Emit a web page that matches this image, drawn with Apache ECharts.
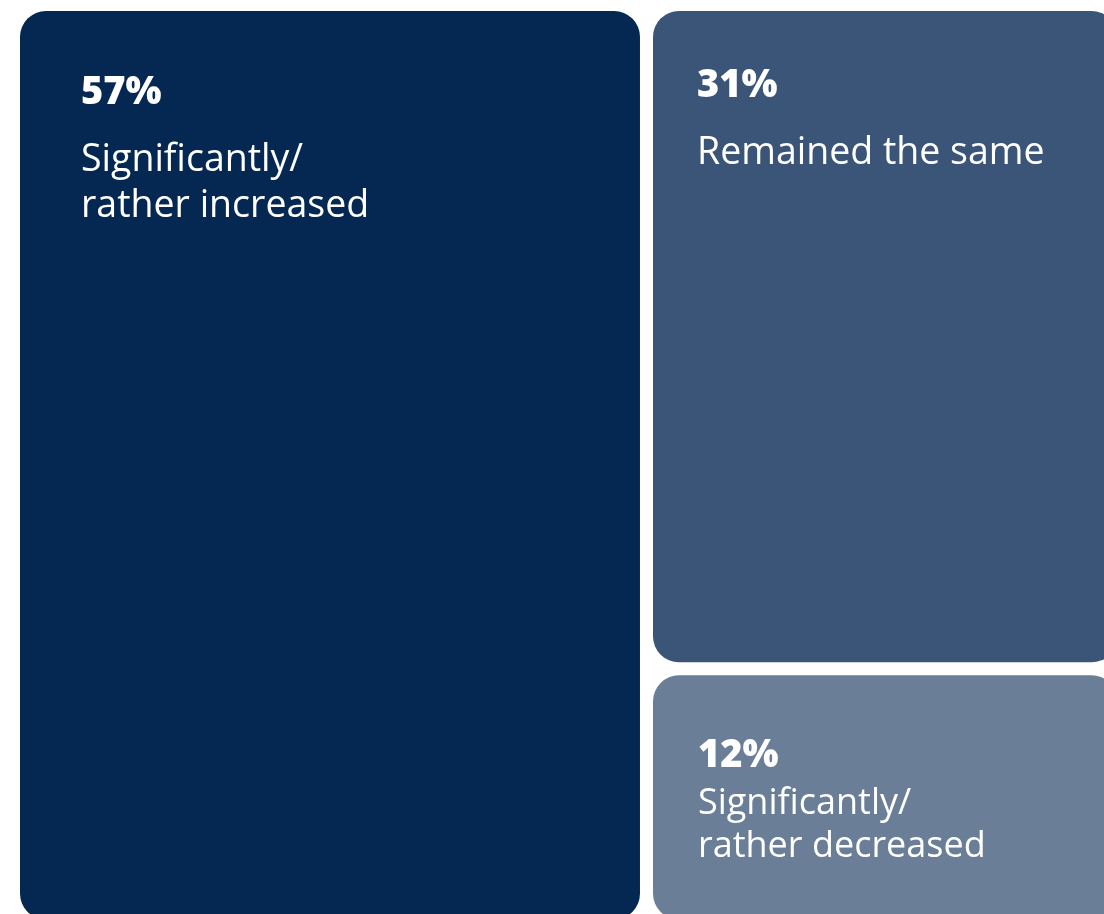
<!DOCTYPE html>
<html>
<head>
<meta charset="utf-8">
<title>Change in share</title>
<script src="https://cdn.jsdelivr.net/npm/echarts@6/dist/echarts.min.js"></script>
<style>
  html, body { margin: 0; padding: 0; background: #ffffff; }
  #chart { width: 1104px; height: 914px; }
</style>
</head>
<body>
<div id="chart"></div>
<script>
// Answer categories, their shares (%) and tile colours
const categories = ['Significantly/\nrather increased', 'Remained the same', 'Significantly/\nrather decreased'];
const shares = [57, 31, 12];
const colors = ['#052852', '#3b5578', '#6b7e97'];

// Per-tile label placement inside each tile: [x, y] from the tile's top-left,
// line heights for the percentage line and the description lines, and text size
const labelPos = [[61, 37.5], [44, 30.5], [45, 55]];
const pctLineHeight = [89, 89, 52];
const textLineHeight = [46, 46, 43];
const textSize = [37.5, 37.5, 36];

const chart = echarts.init(document.getElementById('chart'), null, { renderer: 'canvas' });

const data = categories.map((name, i) => ({
  name: name,
  value: shares[i],
  itemStyle: { color: colors[i], borderRadius: 26 },
  label: {
    position: labelPos[i],
    formatter: '{p|' + shares[i] + '%}\n' + name.split('\n').map(l => '{t|' + l + '}').join('\n'),
    rich: {
      p: { fontFamily: 'Open Sans', fontSize: 38, fontWeight: 800, color: '#ffffff', lineHeight: pctLineHeight[i] },
      t: { fontFamily: 'Open Sans', fontSize: textSize[i], fontWeight: 400, color: '#ffffff', lineHeight: textLineHeight[i] }
    }
  }
}));

chart.setOption({
  backgroundColor: '#ffffff',
  animation: false,
  series: [{
    type: 'treemap',
    left: 20,
    top: 11,
    width: 1097.5,
    height: 908.5,
    roam: false,
    nodeClick: false,
    breadcrumb: { show: false },
    squareRatio: 1,
    itemStyle: { borderWidth: 0, gapWidth: 13, borderRadius: 26 },
    levels: [{ itemStyle: { gapWidth: 13, borderWidth: 0 } }],
    label: {
      show: true,
      padding: 0,
      align: 'left',
      verticalAlign: 'top',
      overflow: 'none'
    },
    upperLabel: { show: false },
    data: data
  }]
});
</script>
</body>
</html>
